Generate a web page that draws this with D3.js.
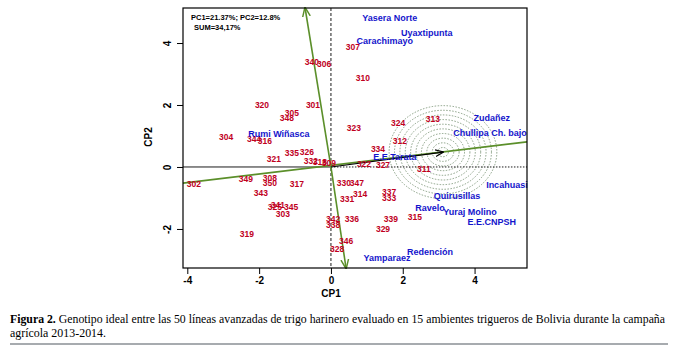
<!DOCTYPE html>
<html>
<head>
<meta charset="utf-8">
<script src="https://cdn.jsdelivr.net/npm/d3@7"></script>
<style>
  body { margin: 0; background: #fff; }
  svg { display: block; }
</style>
</head>
<body>
<svg id="chart" width="682" height="351"></svg>
<script>
// genotypes (lines 301-350), coordinates on CP1 / CP2
const genoIds = ["340","306","307","310","320","301","305","348","304","344","316","323","324","313","312","334",
  "321","335","326","332","318","309","322","327","311","302","349","308","350","317","330","347","343","314",
  "331","337","333","325","341","345","303","319","342","338","336","339","329","315","346","328"];
const genoCP1 = [-0.53,-0.19,0.61,0.89,-1.92,-0.50,-1.09,-1.23,-2.92,-2.14,-1.84,0.64,1.87,2.84,1.92,1.31,
  -1.59,-1.09,-0.67,-0.56,-0.31,-0.06,0.92,1.45,2.59,-3.82,-2.37,-1.70,-1.70,-0.95,0.36,0.72,-1.95,0.81,
  0.45,1.62,1.62,-1.56,-1.48,-1.11,-1.34,-2.34,0.06,0.06,0.58,1.67,1.45,2.34,0.42,0.17];
const genoCP2 = [3.39,3.32,3.87,2.87,2.00,2.00,1.74,1.58,0.97,0.90,0.84,1.26,1.42,1.55,0.84,0.58,
  0.26,0.45,0.48,0.19,0.16,0.13,0.10,0.06,-0.06,-0.55,-0.39,-0.35,-0.52,-0.55,-0.52,-0.52,-0.84,-0.87,
  -1.03,-0.81,-1.00,-1.29,-1.23,-1.29,-1.52,-2.16,-1.68,-1.87,-1.68,-1.68,-2.00,-1.61,-2.39,-2.65];

// environments
const envNames = ["Yasera Norte","Uyaxtipunta","Carachimayo","Zudañez","Chullipa Ch. bajo","Rumi Wiñasca",
  "E.E.Tarata","Incahuasi","Quirusillas","Ravelo","Yuraj Molino","E.E.CNPSH","Redención","Yamparaez"];
const envCP1 = [1.64,2.67,1.50,4.48,4.43,-1.45,1.78,4.90,3.51,2.76,3.87,4.48,2.76,1.56];
const envCP2 = [4.81,4.32,4.06,1.58,1.10,1.06,0.32,-0.58,-0.94,-1.32,-1.45,-1.77,-2.74,-2.94];

// ideal genotype and concentric rings
const idealPoint = [3.12, 0.48];
const ringRadii = [0.15,0.30,0.45,0.60,0.75,0.90,1.05,1.20,1.35,1.50];

// green ATC axes (end points)
const atcH = [[-4.12,-0.52],[5.46,0.81]];
const atcV = [[-0.72,5.13],[0.42,-3.26]];

const xTicks = [-4,-2,0,2,4];
const yTicks = [-2,0,2,4];

const svg = d3.select("#chart");
const x = d3.scaleLinear().domain([-4.12, 5.46]).range([183, 527]);
const y = d3.scaleLinear().domain([-3.26, 5.13]).range([268, 8]);

const GREEN = "#5b8f2a";
const RED = "#c0001e";
const BLUE = "#1414cc";
const SANS = "Liberation Sans, Arial, sans-serif";

const defs = svg.append("defs");
function marker(id, color, size) {
  defs.append("marker")
    .attr("id", id).attr("viewBox", "0 -5 10 10")
    .attr("refX", 9).attr("refY", 0)
    .attr("markerWidth", size).attr("markerHeight", size)
    .attr("orient", "auto")
    .append("path").attr("d", "M0,-4L10,0L0,4").attr("fill", "none")
    .attr("stroke", color).attr("stroke-width", 1.5);
}
marker("arrGreen", GREEN, 6);
marker("arrBlack", "#000", 7);

const plot = svg.append("g");

// rings around the ideal genotype
ringRadii.forEach(r => {
  plot.append("ellipse")
    .attr("cx", x(idealPoint[0])).attr("cy", y(idealPoint[1]))
    .attr("rx", x(r) - x(0)).attr("ry", y(0) - y(r))
    .attr("fill", "none").attr("stroke", "#6f8a6a")
    .attr("stroke-width", 0.8).attr("stroke-dasharray", "1.5,1.5");
});

// reference lines through origin
plot.append("line")
  .attr("x1", x(0)).attr("x2", x(0)).attr("y1", y.range()[1]).attr("y2", y.range()[0])
  .attr("stroke", "#000").attr("stroke-width", 0.9).attr("stroke-dasharray", "3,2");
plot.append("line")
  .attr("x1", x.range()[0]).attr("x2", x(0)).attr("y1", y(0)).attr("y2", y(0))
  .attr("stroke", "#000").attr("stroke-width", 0.9);
plot.append("line")
  .attr("x1", x(0)).attr("x2", x.range()[1]).attr("y1", y(0)).attr("y2", y(0))
  .attr("stroke", "#000").attr("stroke-width", 0.9).attr("stroke-dasharray", "1.5,1.5");

// green axes
const line = d3.line().x(d => x(d[0])).y(d => y(d[1]));
plot.append("path").attr("d", line(atcH))
  .attr("stroke", GREEN).attr("stroke-width", 1.6).attr("fill", "none");
[[[0,0], atcV[0]], [[0,0], atcV[1]]].forEach(seg => {
  plot.append("path").attr("d", line(seg))
    .attr("stroke", GREEN).attr("stroke-width", 1.6).attr("fill", "none")
    .attr("marker-end", "url(#arrGreen)");
});

// arrow to ideal genotype
plot.append("path").attr("d", line([[0,0], idealPoint]))
  .attr("stroke", "#000").attr("stroke-width", 1.2).attr("fill", "none")
  .attr("marker-end", "url(#arrBlack)");

// genotype labels
plot.selectAll("text.geno").data(genoIds).join("text")
  .attr("class", "geno")
  .attr("x", (d, i) => x(genoCP1[i]))
  .attr("y", (d, i) => y(genoCP2[i]))
  .attr("text-anchor", "middle").attr("dominant-baseline", "central")
  .attr("font-family", SANS).attr("font-weight", "bold").attr("font-size", 8.5)
  .attr("fill", RED)
  .text(d => d);

// environment labels
plot.selectAll("text.env").data(envNames).join("text")
  .attr("class", "env")
  .attr("x", (d, i) => x(envCP1[i]))
  .attr("y", (d, i) => y(envCP2[i]))
  .attr("text-anchor", "middle").attr("dominant-baseline", "central")
  .attr("font-family", SANS).attr("font-weight", "bold").attr("font-size", 9)
  .attr("fill", BLUE)
  .text(d => d);

// frame
svg.append("rect")
  .attr("x", 183).attr("y", 8).attr("width", 344).attr("height", 260)
  .attr("fill", "none").attr("stroke", "#000").attr("stroke-width", 1.2);

// axes
const xAxis = svg.append("g").attr("transform", "translate(0,268)")
  .call(d3.axisBottom(x).tickValues(xTicks).tickSize(6).tickPadding(3).tickFormat(d => String(d)));
const yAxis = svg.append("g").attr("transform", "translate(183,0)")
  .call(d3.axisLeft(y).tickValues(yTicks).tickSize(6).tickPadding(3).tickFormat(d => String(d)));
[xAxis, yAxis].forEach(a => {
  a.select(".domain").remove();
  a.selectAll("line").attr("stroke", "#000");
  a.selectAll("text").attr("font-family", SANS)
    .attr("font-weight", "bold").attr("font-size", 10).attr("fill", "#000");
});
yAxis.selectAll(".tick text")
  .attr("transform", "rotate(-90)").attr("x", 0).attr("y", -12).attr("dy", "0")
  .attr("text-anchor", "middle");

// axis titles
svg.append("text").attr("x", 331).attr("y", 297)
  .attr("text-anchor", "middle")
  .attr("font-family", SANS).attr("font-weight", "bold").attr("font-size", 10)
  .text("CP1");
svg.append("text")
  .attr("transform", "translate(152,137) rotate(-90)")
  .attr("text-anchor", "middle")
  .attr("font-family", SANS).attr("font-weight", "bold").attr("font-size", 10)
  .text("CP2");

// variance note
svg.append("text").attr("x", 191).attr("y", 20)
  .attr("font-family", SANS).attr("font-weight", "bold").attr("font-size", 7.5)
  .text("PC1=21.37%; PC2=12.8%");
svg.append("text").attr("x", 194).attr("y", 30)
  .attr("font-family", SANS).attr("font-weight", "bold").attr("font-size", 7.5)
  .text("SUM=34,17%");

// caption
const cap = svg.append("text").attr("x", 10).attr("y", 323)
  .attr("font-family", "Liberation Serif, Times New Roman, serif").attr("font-size", 11.5)
  .attr("textLength", 655).attr("lengthAdjust", "spacingAndGlyphs");
cap.append("tspan").attr("font-weight", "bold").text("Figura 2.");
cap.append("tspan").text(" Genotipo ideal entre las 50 líneas avanzadas de trigo harinero evaluado en 15 ambientes trigueros de Bolivia durante la campaña");
svg.append("text").attr("x", 10).attr("y", 337)
  .attr("font-family", "Liberation Serif, Times New Roman, serif").attr("font-size", 11.5)
  .attr("textLength", 96).attr("lengthAdjust", "spacingAndGlyphs")
  .text("agrícola 2013-2014.");
svg.append("line").attr("x1", 10).attr("x2", 668).attr("y1", 344).attr("y2", 344)
  .attr("stroke", "#8a8f94").attr("stroke-width", 1.5);
</script>
</body>
</html>
